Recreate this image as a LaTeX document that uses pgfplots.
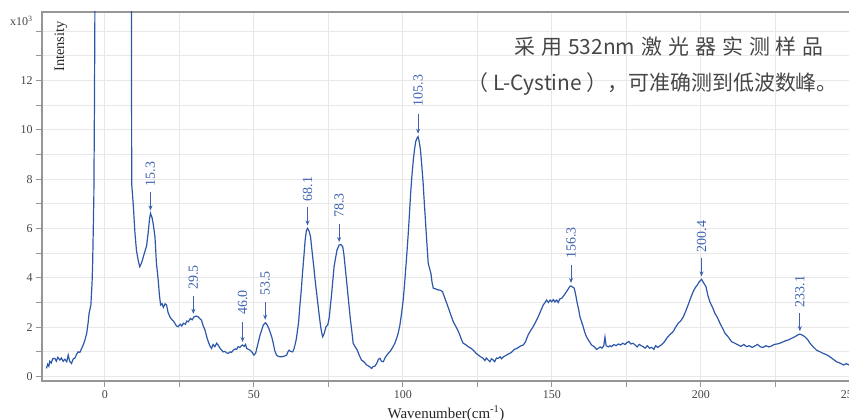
\documentclass[border=0pt]{standalone}
\usepackage{pgfplots}
\pgfplotsset{compat=1.18}
\usepackage{fontspec}
\setmainfont{Liberation Serif}
\newfontfamily\cjk{Noto Sans CJK SC}
\usetikzlibrary{arrows.meta}
\definecolor{spec}{RGB}{45,88,170}
\definecolor{ann}{RGB}{62,99,174}
\definecolor{axgray}{RGB}{150,150,150}
\definecolor{gridgray}{RGB}{232,232,232}
\definecolor{txtgray}{RGB}{70,70,70}
\tikzset{
  annot/.style={ann, rotate=90, anchor=west, inner sep=0, font=\fontsize{14}{14}\selectfont},
  arr/.style={ann, line width=0.9bp, -{Stealth[length=5bp,width=4bp]}},
}
\begin{document}
\begin{tikzpicture}
\begin{axis}[
  at={(42bp,39bp)}, anchor=south west,
  scale only axis, width=810.9bp, height=369bp,
  xmin=-21.1, xmax=251, ymin=-0.18, ymax=14.77,
  axis line style={axgray, line width=1.2bp},
  tick align=outside, major tick length=6bp, minor tick length=6bp,
  tick style={axgray, line width=1bp},
  xtick pos=bottom, ytick pos=left,
  xtick={0,50,...,250}, minor xtick={25,75,...,225},
  ytick={0,2,...,12}, minor ytick={1,3,...,13,14},
  grid=both,
  major grid style={gridgray, line width=0.9bp},
  minor grid style={gridgray, line width=0.9bp},
  ticklabel style={font=\fontsize{12}{12}\selectfont, text=txtgray},
  /pgf/number format/assume math mode=true,
  clip=true,
]
\addplot[spec, line width=1.2bp] coordinates {
(-19.6,0.33) (-19.2,0.5) (-18.8,0.42) (-18.5,0.62) (-18.0,0.55) (-17.5,0.72) (-16.8,0.74) (-16.3,0.62) (-15.8,0.78) (-15.1,0.67) (-14.6,0.75) (-14.0,0.62) (-13.4,0.7) (-12.8,0.6) (-12.3,0.87) (-11.8,0.62) (-11.2,0.53) (-10.6,0.72) (-10.1,0.74) (-9.5,0.9) (-9.0,1.0) (-8.4,0.98) (-7.8,1.14) (-7.2,1.3) (-6.7,1.48) (-6.1,1.75) (-5.6,2.2) (-5.3,2.56) (-4.7,2.9) (-4.3,3.8) (-4.1,4.6) (-3.9,5.94) (-3.7,7.3) (-3.5,11) (-3.3,16) (2.8,80) (8.9,16) (9.0,7.8) (9.5,7.0) (10.1,5.8) (10.6,5.1) (11.2,4.7) (11.7,4.45) (12.3,4.6) (12.9,4.85) (13.5,5.1) (14.0,5.3) (14.5,5.8) (15.0,6.4) (15.3,6.61) (15.8,6.45) (16.2,6.2) (16.8,5.67) (17.3,4.59) (17.9,3.91) (18.3,3.3) (18.7,2.9) (19.2,2.95) (19.6,2.8) (20.2,2.95) (20.7,2.9) (21.2,2.6) (21.8,2.42) (22.5,2.3) (23.0,2.25) (23.5,2.16) (24.0,2.05) (24.6,2.02) (25.3,2.12) (25.8,2.05) (26.3,2.16) (27.0,2.12) (27.5,2.25) (28.0,2.22) (28.7,2.35) (29.3,2.3) (29.9,2.42) (30.6,2.45) (31.3,2.42) (31.8,2.35) (32.4,2.29) (33.0,2.05) (33.6,1.88) (34.2,1.6) (34.7,1.41) (35.2,1.25) (35.8,1.14) (36.3,1.3) (36.9,1.21) (37.5,1.35) (38.0,1.28) (38.6,1.15) (39.1,1.08) (39.7,1.0) (40.3,1.02) (40.8,0.96) (41.4,0.94) (42.0,1.0) (42.5,0.98) (43.1,1.07) (43.7,1.12) (44.2,1.1) (44.7,1.21) (45.3,1.18) (45.8,1.25) (46.2,1.28) (46.7,1.22) (47.2,1.3) (47.6,1.14) (48.2,1.1) (48.7,1.07) (49.3,1.0) (50.0,0.87) (50.6,0.95) (51.0,1.15) (51.4,1.35) (52.0,1.65) (52.6,1.88) (53.2,2.1) (53.9,2.18) (54.5,2.08) (55.0,1.95) (55.4,1.82) (56.0,1.6) (56.5,1.35) (57.0,1.05) (57.6,0.87) (58.2,0.82) (58.8,0.8) (59.3,0.8) (60.0,0.82) (60.5,0.84) (61.0,0.87) (61.4,1.0) (61.8,1.07) (62.3,1.02) (63.0,1.0) (63.4,1.1) (63.8,1.28) (64.2,1.5) (64.5,1.75) (65.0,2.2) (65.4,2.83) (65.9,3.5) (66.3,4.18) (66.8,4.9) (67.2,5.53) (67.6,5.9) (68.0,6.0) (68.5,5.9) (69.0,5.67) (69.5,5.1) (70.1,4.45) (70.6,3.85) (71.2,3.23) (71.8,2.6) (72.4,2.02) (72.8,1.75) (73.1,1.61) (73.6,1.75) (74.2,2.02) (74.8,2.1) (75.3,2.4) (75.7,2.9) (76.1,3.37) (76.5,3.9) (76.9,4.45) (77.4,4.8) (77.9,5.13) (78.6,5.33) (79.2,5.35) (79.8,5.26) (80.2,4.95) (80.5,4.59) (81.0,4.0) (81.4,3.51) (81.9,2.9) (82.4,2.29) (82.9,1.8) (83.3,1.35) (84.0,1.2) (84.7,1.07) (85.4,0.85) (86.1,0.67) (86.9,0.6) (87.8,0.47) (88.6,0.42) (89.5,0.33) (90.0,0.4) (90.6,0.42) (91.2,0.53) (91.8,0.7) (92.3,0.74) (92.8,0.62) (93.4,0.6) (94.2,0.8) (95.1,0.94) (95.9,1.05) (96.7,1.21) (97.3,1.35) (97.9,1.55) (98.5,1.8) (99.0,2.09) (99.6,2.6) (100.1,3.1) (100.6,3.8) (101.0,4.45) (101.4,5.1) (101.8,5.8) (102.2,6.6) (102.6,7.43) (103.0,8.1) (103.5,8.78) (103.9,9.2) (104.3,9.52) (104.7,9.65) (105.1,9.72) (105.5,9.5) (105.9,9.18) (106.3,8.6) (106.8,7.83) (107.2,7.0) (107.7,6.07) (108.1,5.3) (108.5,4.59) (108.9,4.4) (109.4,4.18) (109.8,3.8) (110.2,3.58) (111.0,3.55) (111.8,3.51) (112.5,3.5) (113.3,3.44) (114.0,3.2) (114.7,2.97) (115.5,2.7) (116.3,2.42) (117.0,2.2) (117.8,2.02) (118.3,1.9) (118.9,1.75) (119.5,1.55) (120.2,1.35) (121.0,1.3) (121.9,1.21) (122.8,1.15) (123.6,1.07) (124.5,0.95) (125.3,0.87) (126.1,0.8) (126.9,0.74) (127.5,0.65) (128.0,0.75) (128.6,0.67) (129.2,0.6) (129.7,0.72) (130.3,0.67) (130.8,0.6) (131.4,0.75) (132.0,0.74) (132.6,0.8) (133.1,0.72) (133.7,0.8) (134.5,0.85) (135.2,0.9) (135.9,0.94) (136.6,1.0) (137.4,1.1) (138.2,1.14) (139.0,1.2) (139.7,1.25) (140.4,1.28) (141.1,1.4) (142.0,1.68) (142.8,1.85) (143.7,2.02) (144.5,2.2) (145.4,2.42) (146.2,2.65) (147.1,2.9) (147.7,3.0) (148.2,3.1) (148.8,3.0) (149.4,3.1) (149.9,3.03) (150.5,3.12) (151.0,3.02) (151.6,3.1) (152.1,3.0) (152.7,3.15) (153.3,3.17) (153.8,3.25) (154.4,3.35) (154.9,3.44) (155.5,3.55) (156.0,3.65) (156.4,3.67) (157.0,3.62) (157.5,3.58) (158.0,3.3) (158.5,2.97) (159.0,2.7) (159.4,2.42) (160.0,2.2) (160.5,2.02) (161.0,1.8) (161.6,1.61) (162.4,1.45) (163.3,1.28) (164.3,1.2) (165.0,1.1) (165.5,1.14) (166.2,1.2) (166.8,1.15) (167.4,1.25) (167.8,1.6) (168.2,1.25) (168.9,1.2) (169.5,1.25) (170.0,1.21) (170.8,1.3) (171.5,1.25) (172.3,1.32) (173.0,1.28) (173.8,1.35) (174.5,1.3) (175.1,1.37) (175.8,1.42) (176.5,1.32) (177.2,1.35) (177.9,1.28) (178.6,1.2) (179.3,1.3) (180.0,1.25) (180.6,1.21) (181.3,1.15) (182.0,1.25) (182.8,1.15) (183.5,1.18) (184.2,1.1) (184.8,1.25) (185.5,1.18) (186.2,1.24) (186.9,1.3) (187.7,1.4) (188.5,1.55) (189.6,1.7) (190.7,1.82) (191.5,2.0) (192.4,2.16) (193.2,2.25) (194.1,2.42) (194.9,2.65) (195.7,2.9) (196.6,3.2) (197.4,3.44) (198.1,3.6) (198.8,3.71) (199.5,3.85) (200.2,3.94) (200.9,3.8) (201.7,3.64) (202.3,3.3) (203.0,3.03) (203.9,2.8) (204.7,2.56) (205.5,2.4) (206.4,2.16) (207.3,1.95) (208.1,1.75) (209.2,1.6) (210.3,1.41) (211.4,1.35) (212.5,1.28) (213.4,1.22) (214.4,1.3) (215.3,1.21) (216.2,1.25) (217.2,1.18) (218.1,1.24) (219.0,1.3) (220.0,1.2) (220.9,1.18) (221.8,1.25) (222.8,1.2) (223.7,1.24) (224.6,1.3) (225.6,1.32) (226.5,1.35) (227.4,1.4) (228.4,1.45) (229.3,1.48) (230.4,1.55) (231.5,1.61) (232.4,1.68) (233.2,1.72) (234.0,1.68) (234.9,1.61) (235.8,1.5) (236.6,1.35) (237.7,1.2) (238.8,1.07) (240.0,1.0) (241.0,0.94) (242.2,0.88) (243.3,0.8) (244.4,0.7) (245.5,0.6) (246.6,0.55) (247.8,0.47) (248.8,0.52) (249.7,0.47) (251,0.45)
};
% peak annotations
\draw[arr] (axis cs:15.3,7.46) -- (axis cs:15.3,6.73);
\node[annot] at (axis cs:15.3,7.70) {15.3};
\draw[arr] (axis cs:29.7,3.27) -- (axis cs:29.7,2.54);
\node[annot] at (axis cs:29.7,3.51) {29.5};
\draw[arr] (axis cs:46.2,2.21) -- (axis cs:46.2,1.40);
\node[annot] at (axis cs:46.2,2.50) {46.0};
\draw[arr] (axis cs:53.8,3.03) -- (axis cs:53.8,2.30);
\node[annot] at (axis cs:53.8,3.27) {53.5};
\draw[arr] (axis cs:68.0,6.85) -- (axis cs:68.0,6.12);
\node[annot] at (axis cs:68.0,7.09) {68.1};
\draw[arr] (axis cs:78.6,6.18) -- (axis cs:78.6,5.45);
\node[annot] at (axis cs:78.6,6.42) {78.3};
\draw[arr] (axis cs:105.1,10.65) -- (axis cs:105.1,9.84);
\node[annot] at (axis cs:105.1,10.94) {105.3};
\draw[arr] (axis cs:156.4,4.52) -- (axis cs:156.4,3.79);
\node[annot] at (axis cs:156.4,4.76) {156.3};
\draw[arr] (axis cs:200.2,4.79) -- (axis cs:200.2,4.06);
\node[annot] at (axis cs:200.2,5.03) {200.4};
\draw[arr] (axis cs:233.2,2.57) -- (axis cs:233.2,1.84);
\node[annot] at (axis cs:233.2,2.81) {233.1};
\end{axis}
\node[anchor=base west, inner sep=0, font=\fontsize{12}{12}\selectfont, text=txtgray] at (10bp,394bp) {x10\textsuperscript{3}};
\node[rotate=90, inner sep=0, font=\fontsize{14.5}{14.5}\selectfont, text=black!85] at (61bp,373.5bp) {Intensity};
\node[anchor=base, inner sep=0, font=\fontsize{15}{15}\selectfont, text=black!85] at (446bp,2bp) {Wavenumber(cm\textsuperscript{-1})};
\node[anchor=east, inner sep=0, text=txtgray, font=\cjk\fontsize{21}{21}\selectfont] at (824bp,373bp) {采\hspace{6bp}用\hspace{6bp}532nm\hspace{6bp}激\hspace{6bp}光\hspace{6bp}器\hspace{6bp}实\hspace{6bp}测\hspace{6bp}样\hspace{6bp}品};
\node[anchor=east, inner sep=0, text=txtgray, font=\cjk\fontsize{21}{21}\selectfont] at (838bp,336bp) {（ L-Cystine ），可准确测到低波数峰。};
\pgfresetboundingbox
\path[use as bounding box] (0bp,0bp) rectangle (849bp,420bp);
\end{tikzpicture}
\end{document}
